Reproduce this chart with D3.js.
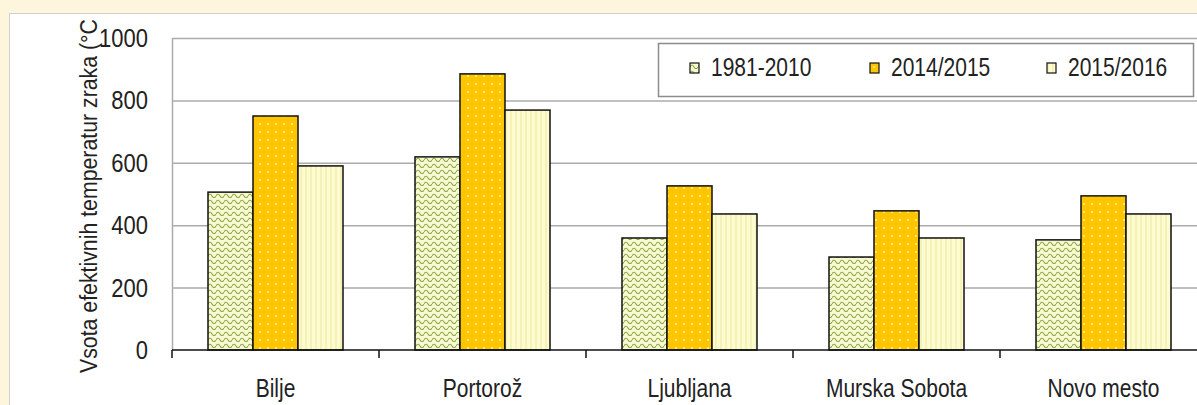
<!DOCTYPE html>
<meta charset="utf-8">
<script src="https://d3js.org/d3.v7.min.js"></script>
<style>
  body { margin: 0; background: #fdf6dc; }
  text { font-family: "Liberation Sans", Arial, sans-serif; fill: #222; }
</style>
<div id="chart"></div>
<script>

// stations and series
var stations = ["Bilje", "Portorož", "Ljubljana", "Murska Sobota", "Novo mesto"];
var seriesNames = ["1981-2010", "2014/2015", "2015/2016"];
var v1981 = [506, 619, 359, 298, 353];
var v2014 = [750, 885, 526, 446, 494];
var v2015 = [590, 769, 436, 359, 436];
var yTicks = [0, 200, 400, 600, 800, 1000];
var yTitle = "Vsota efektivnih temperatur zraka (°C)";

var seriesValues = [v1981, v2014, v2015];
var fills = ["url(#wave)", "url(#dots)", "url(#stripes)"];

var W = 1197, H = 405;
var plot = {left: 172, top: 38, bottom: 350, right: 1207};
var stretch = "scale(1,1.2)";

var svg = d3.select("#chart").append("svg")
  .attr("width", W)
  .attr("height", H);

var defs = svg.append("defs");

// wavy pattern for 1981-2010
var wave = defs.append("pattern").attr("id", "wave")
  .attr("patternUnits", "userSpaceOnUse").attr("width", 8).attr("height", 6);
wave.append("rect").attr("width", 8).attr("height", 6).attr("fill", "#f5fad2");
wave.append("path").attr("d", "M0,4 Q2,0.5 4,4 T8,4")
  .attr("fill", "none").attr("stroke", "#93a545").attr("stroke-width", 1.1);

// dotted pattern for 2014/2015
var dots = defs.append("pattern").attr("id", "dots")
  .attr("patternUnits", "userSpaceOnUse").attr("width", 8).attr("height", 8);
dots.append("rect").attr("width", 8).attr("height", 8).attr("fill", "#ffc600");
dots.append("circle").attr("cx", 4).attr("cy", 4).attr("r", 1).attr("fill", "#fff6a0");

// striped pattern for 2015/2016
var stripes = defs.append("pattern").attr("id", "stripes")
  .attr("patternUnits", "userSpaceOnUse").attr("width", 5).attr("height", 5);
stripes.append("rect").attr("width", 5).attr("height", 5).attr("fill", "#fdfbd2");
stripes.append("rect").attr("width", 2).attr("height", 5).attr("fill", "#f6f1b4");

// the title is cut off at the top in the original
defs.append("clipPath").attr("id", "titleClip")
  .append("rect").attr("x", 10).attr("y", 19).attr("width", 200).attr("height", H);

// white panel
svg.append("rect")
  .attr("x", 9.5).attr("y", 13.5)
  .attr("width", W).attr("height", H)
  .attr("fill", "#fff")
  .attr("stroke", "#cfcfcf");

// scales
var x = d3.scaleBand()
  .domain(stations)
  .range([plot.left, plot.right]);

var xs = d3.scaleBand()
  .domain(seriesNames)
  .range([0, x.bandwidth()])
  .paddingOuter(0.8);

var y = d3.scaleLinear()
  .domain([0, 1000])
  .range([plot.bottom, plot.top]);

// grid lines
svg.append("g").selectAll("line")
  .data(yTicks.filter(function(d) { return d > 0; }))
  .join("line")
    .attr("x1", plot.left).attr("x2", W)
    .attr("y1", function(d) { return y(d) + 0.5; })
    .attr("y2", function(d) { return y(d) + 0.5; })
    .attr("stroke", "#ababab")
    .attr("stroke-width", 1.5);

// left border of plot area
svg.append("line")
  .attr("x1", plot.left + 0.5).attr("x2", plot.left + 0.5)
  .attr("y1", plot.top).attr("y2", plot.bottom)
  .attr("stroke", "#ababab")
  .attr("stroke-width", 1.5);

// bars
var groups = svg.append("g").selectAll("g")
  .data(seriesNames)
  .join("g")
    .attr("fill", function(d, i) { return fills[i]; });

groups.selectAll("rect")
  .data(function(s, i) {
    return stations.map(function(st, j) { return {station: st, series: s, value: seriesValues[i][j]}; });
  })
  .join("rect")
    .attr("x", function(d) { return x(d.station) + xs(d.series); })
    .attr("y", function(d) { return y(d.value); })
    .attr("width", xs.bandwidth())
    .attr("height", function(d) { return y(0) - y(d.value); })
    .attr("stroke", "#111")
    .attr("stroke-width", 1.5);

// x axis line and boundary ticks
svg.append("line")
  .attr("x1", plot.left).attr("x2", W)
  .attr("y1", plot.bottom).attr("y2", plot.bottom)
  .attr("stroke", "#111").attr("stroke-width", 1.5);

svg.append("g").selectAll("line")
  .data(stations)
  .join("line")
    .attr("x1", function(d) { return x(d); })
    .attr("x2", function(d) { return x(d); })
    .attr("y1", plot.bottom).attr("y2", plot.bottom + 8)
    .attr("stroke", "#111").attr("stroke-width", 1.5);

// category labels
svg.append("g").selectAll("text")
  .data(stations)
  .join("text")
    .attr("text-anchor", "middle")
    .attr("font-size", 21)
    .attr("transform", function(d) {
      return "translate(" + (x(d) + x.bandwidth() / 2) + ",397) " + stretch;
    })
    .text(function(d) { return d; });

// y tick labels
svg.append("g").selectAll("text")
  .data(yTicks)
  .join("text")
    .attr("text-anchor", "end")
    .attr("font-size", 22)
    .attr("transform", function(d) { return "translate(148," + (y(d) + 9) + ") " + stretch; })
    .text(function(d) { return d; });

// y title
svg.append("g").attr("clip-path", "url(#titleClip)")
  .append("text")
    .attr("font-size", 21.3)
    .attr("transform", "translate(97,373) rotate(-90) scale(1,1.15)")
    .text(yTitle);

// legend
var legend = svg.append("g");
legend.append("rect")
  .attr("x", 658.5).attr("y", 43.5)
  .attr("width", 535).attr("height", 53)
  .attr("fill", "#fff")
  .attr("stroke", "#8c8c8c")
  .attr("stroke-width", 1.5);

var legendX = [690, 870, 1047];
var item = legend.selectAll("g")
  .data(seriesNames)
  .join("g")
    .attr("transform", function(d, i) { return "translate(" + legendX[i] + ",63)"; });

item.append("rect")
  .attr("width", 9).attr("height", 10)
  .attr("fill", function(d, i) { return fills[i]; })
  .attr("stroke", "#111")
  .attr("stroke-width", 1.2);

item.append("text")
  .attr("font-size", 21)
  .attr("transform", "translate(21,13) " + stretch)
  .text(function(d) { return d; });

</script>
